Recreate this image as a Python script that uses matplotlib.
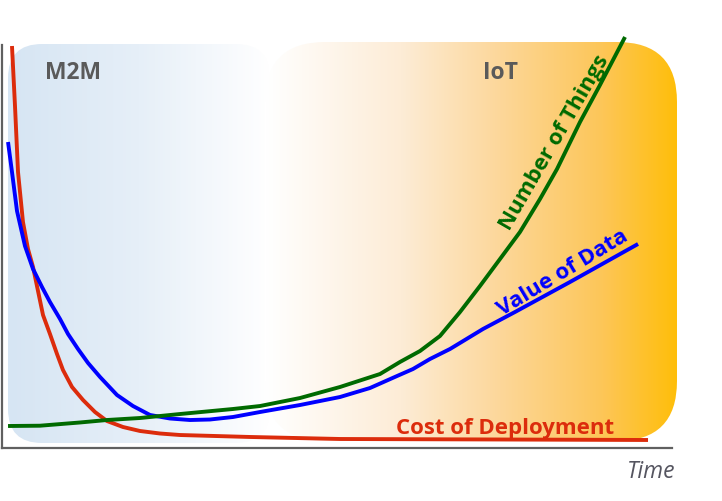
import matplotlib
matplotlib.use("Agg")
import numpy as np
import matplotlib.pyplot as plt
from matplotlib.patches import FancyBboxPatch
from matplotlib.colors import LinearSegmentedColormap

# time axis 0..100, level axis 0..100
cost_t = [1.49, 1.94, 2.39, 3.13, 3.88, 4.63, 6.12, 7.16, 8.21, 9.10, 10.45, 12.09, 13.88, 15.67,
          18.06, 20.60, 23.58, 26.57, 37.01, 50.45, 74.33, 96.42]
cost_v = [95.94, 81.62, 65.87, 53.94, 47.49, 43.20, 31.74, 27.21, 22.43, 18.62, 14.56, 11.46, 8.59, 6.44,
          5.01, 4.06, 3.46, 3.10, 2.63, 2.15, 2.03, 1.91]

data_t = [0.90, 1.49, 2.24, 3.43, 4.63, 5.97, 7.16, 8.66, 9.85, 11.34, 12.84, 14.63, 17.16, 19.55,
          22.09, 25.07, 28.06, 31.04, 34.48, 38.51, 44.48, 50.45, 54.93, 58.96, 61.34, 63.88, 66.87,
          71.79, 76.57, 84.78, 94.93]
data_v = [73.03, 65.87, 56.56, 48.21, 42.72, 38.42, 34.84, 30.79, 27.21, 23.63, 20.29, 16.95, 12.65, 10.02,
          7.88, 7.04, 6.68, 6.80, 7.40, 8.59, 10.26, 12.17, 14.32, 17.18, 18.85, 21.24, 23.63,
          28.40, 32.46, 39.62, 48.69]

things_t = [0.90, 5.67, 11.64, 15.67, 20.60, 26.57, 34.48, 38.51, 44.48, 50.45, 56.42, 59.40, 62.39,
            65.37, 68.36, 71.34, 74.33, 77.31, 80.30, 82.84, 86.27, 89.25, 92.99]
things_v = [5.25, 5.32, 6.09, 6.68, 7.16, 8.11, 9.31, 10.02, 11.93, 14.56, 17.66, 20.53, 23.15,
            26.73, 32.46, 38.66, 45.11, 51.55, 59.43, 66.59, 77.80, 86.63, 98.09]

FONT = ["Open Sans", "DejaVu Sans"]
GREY = "#5a5a5a"
RED = "#dc2c0c"
BLUE = "#0000ff"
GREEN = "#006a00"

fig = plt.figure(figsize=(7.22, 5.02), dpi=100)

# background panels drawn in pixel space
bg = fig.add_axes([0, 0, 1, 1])
bg.set_xlim(0, 722)
bg.set_ylim(502, 0)
bg.axis("off")

blue_cmap = LinearSegmentedColormap.from_list("m2m", ["#d6e5f3", "#e6eff8", "#ffffff"])
orange_cmap = LinearSegmentedColormap.from_list(
    "iot", [(0, "#ffffff"), (0.33, "#fdecd6"), (0.57, "#fcd79a"), (0.82, "#fdc658"), (1, "#ffbe0a")])

grad = np.linspace(0, 1, 256).reshape(1, -1)

box1 = FancyBboxPatch((8, 45), 262, 399, boxstyle="round,pad=0,rounding_size=34",
                      facecolor="none", edgecolor="none")
bg.add_patch(box1)
im1 = bg.imshow(grad, cmap=blue_cmap, extent=(8, 270, 444, 45), aspect="auto")
im1.set_clip_path(box1)

box2 = FancyBboxPatch((265, 43), 412, 399, boxstyle="round,pad=0,rounding_size=60",
                      facecolor="none", edgecolor="none")
bg.add_patch(box2)
im2 = bg.imshow(grad, cmap=orange_cmap, extent=(265, 677, 442, 43), aspect="auto")
im2.set_clip_path(box2)

bg.text(45, 79, "M2M", fontsize=16.5, fontweight="bold", color=GREY, family=FONT)
bg.text(483, 79, "IoT", fontsize=16.5, fontweight="bold", color=GREY, family=FONT)

# main chart
ax = fig.add_axes([2 / 722, 53 / 502, 670 / 722, 419 / 502])
ax.patch.set_alpha(0)
ax.set_xlim(0, 100)
ax.set_ylim(0, 100)
ax.set_xticks([])
ax.set_yticks([])
for s in ["top", "right"]:
    ax.spines[s].set_visible(False)
for s in ["left", "bottom"]:
    ax.spines[s].set_color("#606060")
    ax.spines[s].set_linewidth(1.6)
ax.spines["left"].set_bounds(0, 96.2)

lw = 2.8
ax.plot(cost_t, cost_v, color=RED, lw=lw, solid_capstyle="butt", solid_joinstyle="round", clip_on=False)
ax.plot(data_t, data_v, color=BLUE, lw=lw, solid_capstyle="butt", solid_joinstyle="round", clip_on=False)
ax.plot(things_t, things_v, color=GREEN, lw=lw, solid_capstyle="butt", solid_joinstyle="round", clip_on=False)

ax.text(82.4, 73.2, "Number of Things", fontsize=16, fontweight="bold", color=GREEN, family=FONT,
        rotation=60, rotation_mode="anchor", ha="center", va="center")
ax.text(83.7, 42.0, "Value of Data", fontsize=16, fontweight="bold", color=BLUE, family=FONT,
        rotation=31, rotation_mode="anchor", ha="center", va="center")
ax.text(75.1, 3.6, "Cost of Deployment", fontsize=16, fontweight="bold", color=RED, family=FONT,
        ha="center", va="baseline")

bg.text(675, 478, "Time", fontsize=16.5, style="italic", color="#555560", family=FONT, ha="right")

fig.savefig("out.png", dpi=100)
